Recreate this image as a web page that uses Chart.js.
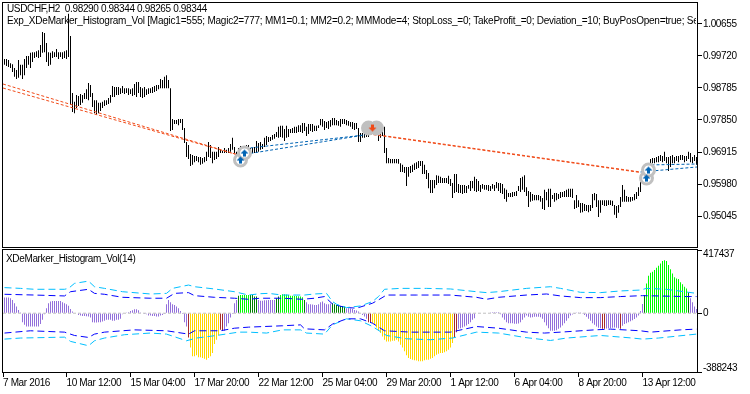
<!DOCTYPE html>
<html>
<head>
<meta charset="utf-8">
<script src="https://cdn.jsdelivr.net/npm/chart.js@4"></script>
<style>
  html, body { margin: 0; padding: 0; background: #fff; }
  body { width: 750px; height: 394px; position: relative; overflow: hidden; }
  canvas { position: absolute; left: 0; }
  #priceCanvas { top: 0; }
  #histCanvas { top: 248px; }
  .label { position: absolute; left: 7px; font: 10px "Liberation Sans", sans-serif; letter-spacing: -0.35px; color: #000; white-space: pre; overflow: hidden; line-height: 14px; }
</style>
</head>
<body>
<canvas id="priceCanvas" width="750" height="248"></canvas>
<canvas id="histCanvas" width="750" height="146"></canvas>
<div class="label" id="line1" style="top:2px;width:689px">USDCHF,H2  0.98290 0.98344 0.98265 0.98344</div>
<div class="label" id="line2" style="top:14px;width:689px;letter-spacing:-0.23px">Exp_XDeMarker_Histogram_Vol [Magic1=555; Magic2=777; MM1=0.1; MM2=0.2; MMMode=4; StopLoss_=0; TakeProfit_=0; Deviation_=10; BuyPosOpen=true; SellPosOpen=true</div>
<div class="label" id="line3" style="top:252px;left:6px">XDeMarker_Histogram_Vol(14)</div>
<script>
// bar highs, 10 per row
const highs = [
  .9963,.9963,.9960,.9951,.9948,.9937,.9931,.9960,.9946,.9946,
  .9963,.9972,.9972,.9981,.9983,.9983,.9986,.9989,1.0004,1.0042,
  1.0039,1.0010,.9983,.9981,.9986,.9983,.9992,.9983,.9983,.9983,
  .9986,.9989,1.0095,1.0030,.9864,.9838,.9858,.9855,.9861,.9858,
  .9864,.9875,.9893,.9887,.9864,.9843,.9843,.9835,.9835,.9838,
  .9843,.9843,.9849,.9858,.9884,.9881,.9881,.9881,.9878,.9884,
  .9878,.9878,.9878,.9875,.9878,.9890,.9896,.9896,.9881,.9878,
  .9881,.9875,.9878,.9878,.9881,.9884,.9887,.9887,.9905,.9902,
  .9911,.9916,.9902,.9878,.9788,.9785,.9785,.9788,.9788,.9788,
  .9762,.9721,.9712,.9686,.9683,.9680,.9680,.9677,.9677,.9674,
  .9677,.9692,.9721,.9712,.9692,.9692,.9692,.9706,.9700,.9695,
  .9703,.9698,.9703,.9715,.9733,.9706,.9692,.9703,.9709,.9709,
  .9709,.9712,.9712,.9703,.9703,.9706,.9724,.9718,.9721,.9715,
  .9733,.9738,.9735,.9735,.9741,.9744,.9750,.9765,.9768,.9768,
  .9759,.9768,.9759,.9759,.9762,.9765,.9765,.9770,.9770,.9776,
  .9776,.9765,.9773,.9773,.9773,.9768,.9768,.9770,.9788,.9788,
  .9782,.9779,.9782,.9785,.9791,.9791,.9785,.9782,.9788,.9788,
  .9788,.9785,.9782,.9779,.9779,.9776,.9776,.9762,.9747,.9747,
  .9747,.9747,.9756,.9762,.9768,.9770,.9773,.9762,.9759,.9765,
  .9765,.9703,.9674,.9671,.9671,.9671,.9671,.9671,.9659,.9654,
  .9648,.9648,.9648,.9651,.9654,.9659,.9662,.9665,.9665,.9665,
  .9654,.9639,.9630,.9610,.9610,.9610,.9624,.9622,.9619,.9616,
  .9616,.9616,.9622,.9613,.9601,.9627,.9627,.9598,.9595,.9595,
  .9595,.9592,.9595,.9607,.9607,.9619,.9613,.9607,.9595,.9598,
  .9595,.9595,.9595,.9592,.9598,.9595,.9604,.9601,.9601,.9598,
  .9586,.9581,.9572,.9572,.9575,.9575,.9578,.9592,.9616,.9619,
  .9624,.9589,.9578,.9575,.9569,.9566,.9566,.9566,.9563,.9557,
  .9581,.9575,.9584,.9584,.9566,.9572,.9572,.9569,.9575,.9575,
  .9578,.9581,.9584,.9584,.9584,.9551,.9566,.9551,.9543,.9543,
  .9540,.9537,.9537,.9537,.9569,.9572,.9569,.9551,.9551,.9551,
  .9551,.9551,.9551,.9551,.9549,.9537,.9534,.9537,.9560,.9595,
  .9581,.9563,.9560,.9560,.9560,.9569,.9575,.9589,.9604,.9630,
  .9645,.9648,.9659,.9671,.9674,.9674,.9677,.9680,.9683,.9680,
  .9692,.9677,.9677,.9680,.9683,.9677,.9680,.9680,.9683,.9683,
  .9680,.9680,.9692,.9689,.9677,.9683,.9677
];
// bar lows
const lows = [
  .9946,.9943,.9940,.9937,.9925,.9911,.9905,.9908,.9916,.9905,
  .9916,.9937,.9946,.9937,.9954,.9966,.9969,.9966,.9969,.9981,
  .9983,.9954,.9943,.9946,.9966,.9969,.9969,.9963,.9969,.9963,
  .9966,.9963,.9969,.9829,.9808,.9805,.9820,.9826,.9829,.9835,
  .9846,.9846,.9843,.9852,.9823,.9805,.9800,.9805,.9811,.9820,
  .9826,.9829,.9832,.9835,.9852,.9852,.9858,.9858,.9861,.9864,
  .9861,.9864,.9858,.9861,.9855,.9858,.9852,.9864,.9852,.9849,
  .9852,.9858,.9861,.9864,.9864,.9867,.9870,.9875,.9878,.9878,
  .9878,.9878,.9878,.9753,.9756,.9773,.9773,.9770,.9776,.9756,
  .9718,.9677,.9671,.9651,.9654,.9662,.9665,.9662,.9654,.9657,
  .9662,.9665,.9677,.9674,.9659,.9668,.9671,.9677,.9689,.9689,
  .9689,.9689,.9689,.9692,.9698,.9689,.9680,.9674,.9683,.9689,
  .9689,.9692,.9692,.9689,.9689,.9689,.9689,.9692,.9698,.9700,
  .9706,.9712,.9721,.9724,.9727,.9730,.9735,.9733,.9735,.9733,
  .9724,.9733,.9735,.9747,.9747,.9747,.9747,.9750,.9750,.9747,
  .9753,.9738,.9744,.9753,.9750,.9753,.9753,.9762,.9770,.9765,
  .9756,.9762,.9759,.9765,.9770,.9770,.9770,.9768,.9765,.9773,
  .9773,.9770,.9768,.9765,.9759,.9756,.9759,.9721,.9721,.9733,
  .9733,.9735,.9735,.9741,.9747,.9750,.9747,.9724,.9733,.9738,
  .9689,.9659,.9659,.9659,.9659,.9659,.9659,.9657,.9633,.9633,
  .9630,.9592,.9619,.9630,.9633,.9639,.9642,.9645,.9651,.9627,
  .9627,.9613,.9586,.9572,.9572,.9586,.9595,.9601,.9601,.9601,
  .9601,.9601,.9598,.9592,.9557,.9572,.9575,.9572,.9572,.9569,
  .9572,.9572,.9584,.9578,.9586,.9578,.9575,.9578,.9575,.9584,
  .9581,.9581,.9578,.9578,.9584,.9578,.9586,.9578,.9572,.9569,
  .9554,.9546,.9560,.9560,.9560,.9563,.9563,.9578,.9575,.9581,
  .9575,.9563,.9531,.9546,.9549,.9551,.9551,.9551,.9546,.9525,
  .9522,.9551,.9531,.9531,.9554,.9546,.9551,.9554,.9557,.9560,
  .9560,.9560,.9560,.9560,.9557,.9525,.9528,.9531,.9514,.9516,
  .9519,.9519,.9516,.9519,.9528,.9551,.9531,.9502,.9514,.9537,
  .9534,.9534,.9537,.9537,.9534,.9508,.9499,.9514,.9531,.9546,
  .9546,.9546,.9546,.9546,.9549,.9551,.9554,.9563,.9575,.9601,
  .9607,.9619,.9630,.9633,.9659,.9659,.9662,.9662,.9665,.9662,
  .9665,.9659,.9636,.9648,.9659,.9659,.9665,.9662,.9668,.9668,
  .9662,.9665,.9671,.9662,.9659,.9665,.9654
];

// deal lines, [bar, price]
const sellLegA = [[-0.75, .98901], [117, .96828]];
const sellLegB = [[-0.75, .98784], [117, .96828]];
const buyLegA = [[118, .97003], [180, .97412]];
const buyLegB = [[118, .96828], [180, .97412]];
const sellLegC = [[182, .97456], [318, .96332]];
const sellLegD = [[182, .97441], [318, .96317]];
const buyLegC = [[321, .96536], [346.25, .96565]];
const buyLegD = [[318, .96332], [346.25, .96478]];

// deal arrows, [bar, price]
const buyMarks = [[118, .96682], [120, .96886], [321, .96156], [322, .96390]];
const sellMarks = [[184, .97616]];
const sellHalo = [[182, .97616], [186, .97616]];

// indicator histogram, in thousands
const histK = [
  103,103,103,99,88,66,44,22,4,-59,-77,-88,-88,-88,-88,-88,-88,-88,-72,-44,
  -7,33,66,77,81,81,81,81,81,72,66,59,50,28,11,0,-4,-11,-15,-18,
  -18,-20,-22,-28,-59,-61,-61,-59,-59,-55,-50,-44,-44,-44,-50,-50,-44,-44,-37,-7,
  0,2,7,15,20,26,26,20,4,0,-2,-7,-15,-15,-18,-18,-22,-22,-15,-11,
  -2,59,88,72,59,55,44,33,15,-1,-59,-88,-160,-226,-285,-285,-278,-291,-291,-296,
  -300,-307,-296,-285,-263,-204,-175,-147,-110,-116,-116,-88,-66,-28,-1,66,88,116,120,120,
  120,120,120,120,120,110,110,88,83,83,85,85,88,88,88,88,99,110,120,125,
  125,123,120,116,116,114,114,112,110,105,88,72,59,59,57,55,55,59,72,77,
  66,59,59,64,66,59,55,50,48,48,44,33,33,31,28,22,18,11,-4,-11,
  -22,-37,-59,-59,-66,-77,-94,-116,-131,-153,-175,-186,-186,-186,-182,-182,-175,-186,-208,-226,
  -252,-278,-296,-302,-307,-311,-313,-318,-318,-318,-311,-307,-307,-300,-296,-285,-274,-267,-263,-263,
  -258,-252,-241,-226,-197,-160,-125,-103,-99,-94,-88,-81,-72,-59,-44,-33,-4,0,0,0,
  0,0,0,4,7,7,7,7,-7,-28,-44,-59,-66,-66,-66,-70,-70,-68,-59,-44,
  -28,-15,-24,-28,-26,-24,-24,-24,-26,-37,-59,-81,-99,-116,-116,-116,-112,-103,-94,-81,
  -66,-50,-33,-15,-9,-2,2,4,2,-2,-11,-24,-37,-50,-66,-77,-88,-96,-99,-103,
  -103,-101,-99,-99,-96,-94,-96,-99,-103,-83,-72,-66,-59,-53,-46,-39,-28,-15,15,61,
  120,197,247,267,274,285,300,313,329,344,350,344,318,291,263,237,230,226,204,191,
  175,164,138,99,72,44,28
];

// histogram state per run: [state, bar count]
const histRuns = [
  ['flat',92],['weakDown',1],['down',15],['weakDown',2],['flat',7],['weakUp',1],['up',5],['weakUp',4],
  ['flat',9],['weakUp',2],['up',12],['weakUp',1],['flat',13],['weakUp',7],['flat',11],['weakDown',2],
  ['down',41],['weakDown',2],['flat',72],['weakDown',2],['flat',7],['weakDown',1],['flat',11],
  ['weakUp',1],['up',21],['weakUp',1],['flat',4]
];

// indicator bands, [bar, thousands]
const outerUpper = [[0,169],[8,164],[15,158],[30,158],[32,164],[35,197],[42,212],[45,175],[50,164],[59,142],[73,127],[81,131],[84,164],[92,186],[95,175],[105,160],[115,142],[122,120],[128,129],[132,131],[139,120],[150,120],[155,127],[161,131],[164,77],[166,59],[171,37],[178,48],[184,77],[187,110],[190,158],[198,164],[211,164],[223,160],[236,142],[241,136],[247,142],[261,164],[273,175],[278,164],[288,138],[298,136],[308,147],[318,153],[321,164],[331,158],[346,131]];
const innerUpper = [[0,125],[15,120],[30,114],[33,142],[42,158],[45,131],[50,125],[59,105],[73,99],[81,99],[85,131],[92,136],[95,116],[105,105],[115,99],[122,92],[128,99],[139,99],[149,92],[155,99],[160,110],[164,61],[170,39],[176,33],[184,66],[187,88],[191,120],[206,120],[223,120],[236,105],[241,92],[247,105],[261,120],[271,127],[278,114],[288,103],[298,103],[308,110],[319,116],[341,110],[346,110]];
const innerLower = [[0,-131],[13,-116],[30,-125],[35,-147],[42,-160],[45,-138],[50,-125],[65,-110],[81,-116],[92,-138],[95,-116],[108,-116],[115,-99],[122,-92],[139,-83],[148,-77],[150,-103],[160,-110],[164,-72],[171,-37],[178,-37],[184,-66],[190,-116],[203,-125],[223,-125],[236,-88],[247,-99],[261,-125],[270,-131],[278,-125],[295,-110],[303,-105],[318,-116],[323,-125],[338,-110],[346,-105]];
const outerLower = [[0,-171],[8,-164],[30,-158],[33,-186],[42,-215],[45,-182],[50,-164],[60,-142],[73,-131],[81,-138],[91,-182],[96,-164],[106,-147],[117,-125],[122,-125],[131,-131],[139,-110],[148,-110],[151,-131],[160,-138],[164,-77],[171,-37],[178,-50],[184,-88],[191,-147],[201,-169],[213,-175],[224,-164],[236,-125],[247,-131],[260,-160],[273,-180],[281,-164],[298,-147],[314,-164],[319,-171],[327,-164],[346,-138]];

// axis ticks
const priceTicks = [1.00655, .99720, .98785, .97850, .96915, .95980, .95045];
const histTicks = [417437, 0, -388243];
const timeLabels = ['7 Mar 2016','10 Mar 12:00','15 Mar 04:00','17 Mar 20:00','22 Mar 12:00','25 Mar 04:00','29 Mar 20:00','1 Apr 12:00','6 Apr 04:00','8 Apr 20:00','13 Apr 12:00'];
const timeBars = [-0.75,31,63,95,127,159,191,223,255,287,319];

const FONT = { family: '"Liberation Sans", sans-serif', size: 10 };
const RED = '#f04a18', BLUE = '#0064b4';
const histColors = { flat: '#9370db', up: '#00ff00', weakUp: '#008000', down: '#ffd700', weakDown: '#a52a2a' };
const histState = histRuns.flatMap(([s, n]) => Array(n).fill(s));

const pts = rows => rows.map(([x, y]) => ({ x, y }));
const ptsK = rows => rows.map(([x, y]) => ({ x, y: y * 1000 }));

function arrowIcon(color, up) {
  const c = document.createElement('canvas');
  c.width = 9; c.height = 9;
  const g = c.getContext('2d');
  g.fillStyle = color;
  if (!up) { g.translate(0, 9); g.scale(1, -1); }
  g.beginPath();
  g.moveTo(4.5, 1); g.lineTo(8.5, 5); g.lineTo(6, 5); g.lineTo(6, 8); g.lineTo(3, 8); g.lineTo(3, 5); g.lineTo(.5, 5);
  g.closePath(); g.fill();
  return c;
}

const dealLine = (rows, color) => ({
  type: 'line', data: pts(rows), borderColor: color, borderWidth: 1, borderDash: [3, 2],
  pointRadius: 0, tension: 0, fill: false
});
const marks = (rows, style) => ({
  type: 'line', data: pts(rows), showLine: false, pointStyle: style, pointRadius: 4, pointHoverRadius: 4
});
const rings = (rows, fill) => ({
  type: 'line', data: pts(rows), showLine: false, pointStyle: 'circle', pointRadius: 6,
  pointBackgroundColor: fill, pointBorderColor: '#c0c0c0', pointBorderWidth: 3
});
const bandLine = (rows, color) => ({
  type: 'line', data: ptsK(rows), borderColor: color, borderWidth: 1, borderDash: [7, 4],
  pointRadius: 0, tension: 0, fill: false
});

const frame = {
  id: 'frame',
  beforeDraw(chart) { chart.ctx.letterSpacing = '-0.35px'; },
  afterDraw(chart) {
    const { ctx, chartArea: a } = chart;
    ctx.save();
    ctx.strokeStyle = '#000';
    ctx.lineWidth = 1;
    ctx.strokeRect(2.5, a.top - 0.5, 695, a.bottom - a.top + 1);
    ctx.restore();
  }
};

const noPad = s => { s.paddingLeft = s.paddingRight = s.paddingTop = s.paddingBottom = 0; };
const xScale = {
  type: 'linear', min: -0.75, max: 346.25, offset: false,
  border: { display: false },
  grid: { display: true, drawOnChartArea: false, tickColor: '#000', tickLength: 5, offset: false }
};
const rightAxis = extra => Object.assign({
  position: 'right',
  border: { display: false },
  grid: { display: true, drawOnChartArea: false, tickColor: '#000', tickLength: 5 },
  afterFit: s => { s.width = 53; noPad(s); }
}, extra);
const base = {
  responsive: false, animation: false,
  plugins: { legend: { display: false }, tooltip: { enabled: false } },
  events: []
};

new Chart(document.getElementById('priceCanvas'), {
  type: 'bar',
  data: {
    datasets: [
      marks(sellMarks, arrowIcon(RED, false)),
      marks(buyMarks, arrowIcon(BLUE, true)),
      rings(sellHalo, '#c0c0c0'),
      rings(buyMarks, '#fff'),
      dealLine(sellLegA, RED), dealLine(sellLegB, RED), dealLine(sellLegC, RED), dealLine(sellLegD, RED),
      dealLine(buyLegA, BLUE), dealLine(buyLegB, BLUE), dealLine(buyLegC, BLUE), dealLine(buyLegD, BLUE),
      {
        type: 'bar',
        data: highs.map((h, i) => ({ x: i, y: [lows[i], h] })),
        backgroundColor: '#000', barThickness: 1, inflateAmount: 0, borderSkipped: false
      }
    ]
  },
  options: Object.assign({}, base, {
    layout: { autoPadding: false, padding: { left: 3, top: 3, bottom: 1, right: 0 } },
    scales: {
      x: Object.assign({}, xScale, {
        ticks: { display: false },
        grid: { display: false },
        afterFit: s => { s.height = 0; noPad(s); }
      }),
      y: rightAxis({
        min: .94142, max: 1.01266,
        afterBuildTicks: s => { s.ticks = priceTicks.map(value => ({ value })); },
        ticks: { font: FONT, color: '#000', padding: 1, callback: v => v.toFixed(5) }
      })
    }
  }),
  plugins: [frame]
});

new Chart(document.getElementById('histCanvas'), {
  type: 'bar',
  data: {
    datasets: [
      bandLine(outerUpper, '#00bfff'), bandLine(innerUpper, '#0000ff'),
      bandLine(innerLower, '#0000ff'), bandLine(outerLower, '#00bfff'),
      {
        type: 'bar',
        data: histK.map((v, i) => ({ x: i, y: v * 1000 })),
        backgroundColor: c => histColors[histState[c.dataIndex]],
        barThickness: 1, inflateAmount: 0
      },
      {
        type: 'line', data: [{ x: -0.75, y: 0 }, { x: 346.25, y: 0 }],
        borderColor: '#c0c0c0', borderWidth: 1, borderDash: [3, 2], pointRadius: 0
      }
    ]
  },
  options: Object.assign({}, base, {
    layout: { autoPadding: false, padding: { left: 3, top: 2, right: 0, bottom: 0 } },
    scales: {
      x: Object.assign({}, xScale, {
        afterFit: s => { s.height = 22; noPad(s); },
        afterBuildTicks: s => { s.ticks = timeBars.map(value => ({ value })); },
        ticks: {
          font: FONT, color: '#000', align: 'start', autoSkip: false, maxRotation: 0, padding: 0,
          callback: (v, i) => timeLabels[i]
        }
      }),
      y: rightAxis({
        min: -388243, max: 417437,
        afterBuildTicks: s => { s.ticks = histTicks.map(value => ({ value })); },
        ticks: {
          font: { family: FONT.family, size: 10, lineHeight: 0.8 }, color: '#000', padding: 1,
          // end labels sit inside the pane, tick marks stay on the edge
          callback: v => v > 0 ? ['', String(v)] : v < 0 ? [String(v), ''] : String(v)
        }
      })
    }
  }),
  plugins: [frame]
});
</script>
</body>
</html>
